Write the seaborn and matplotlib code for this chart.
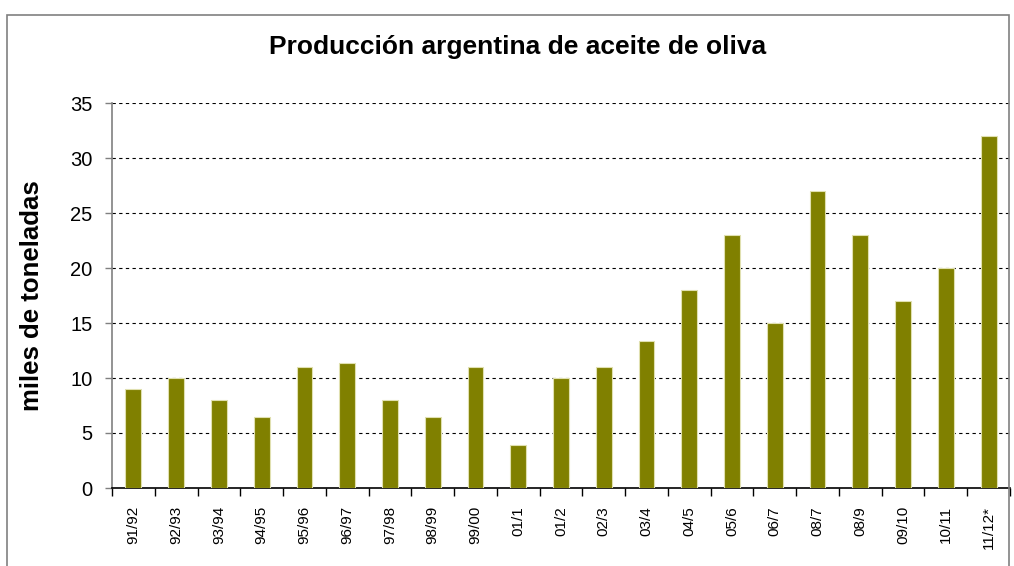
import matplotlib
matplotlib.use("Agg")
import matplotlib.pyplot as plt
import seaborn as sns
import pandas as pd
import numpy as np
from matplotlib.patches import Rectangle

campanias = ["91/92", "92/93", "93/94", "94/95", "95/96", "96/97", "97/98", "98/99",
             "99/00", "01/1", "01/2", "02/3", "03/4", "04/5", "05/6", "06/7", "08/7",
             "08/9", "09/10", "10/11", "11/12*"]
produccion = [9, 10, 8, 6.5, 11, 11.4, 8, 6.5, 11, 3.9, 10, 11, 13.4, 18, 23, 15, 27,
              23, 17, 20, 32]
y_ticks = [0, 5, 10, 15, 20, 25, 30, 35]

sns.set_theme(style="white")
plt.rcParams['font.family'] = ['Liberation Sans', 'DejaVu Sans']
plt.rcParams['text.color'] = 'black'
plt.rcParams['xtick.color'] = 'black'
plt.rcParams['ytick.color'] = 'black'
plt.rcParams['axes.labelcolor'] = 'black'

df = pd.DataFrame({"campania": campanias, "produccion": produccion})

fig = plt.figure(figsize=(10.14, 5.66), dpi=100)
ax = fig.add_axes([112/1014, 1 - 488/566, (1010-112)/1014, (488-103)/566])

# chart border
fig.patches.append(Rectangle((7/1014, -0.1), (1009-7)/1014, 1.1 - 15/566,
                             transform=fig.transFigure, fill=False,
                             edgecolor="#808080", linewidth=1.2, zorder=0))

sns.barplot(data=df, x="campania", y="produccion", color="#808000", width=0.37,
            edgecolor="#E0E0B0", linewidth=0.8, saturation=1, ax=ax, zorder=3)

ax.set_ylim(0, 35)
ax.set_xlim(-0.5, len(campanias) - 0.5)
ax.set_yticks(y_ticks)
ax.set_yticklabels([str(t) for t in y_ticks], fontsize=14.5)
for t in y_ticks[1:]:
    ax.axhline(t, color="black", linestyle=(0, (3, 3)), linewidth=0.8, zorder=1)

ax.set_xticks(range(len(campanias)))
ax.set_xticklabels(campanias, rotation=90, fontsize=11)
ax.tick_params(axis="x", which="major", length=0, pad=13)
ax.set_xticks(np.arange(-0.5, len(campanias), 1), minor=True)
ax.tick_params(axis="x", which="minor", length=6, width=1, color="black", direction="out", bottom=True)
ax.tick_params(axis="y", length=5, width=1, color="#808080", direction="out", left=True, pad=9,
               labelcolor="black")

for s in ["top", "right"]:
    ax.spines[s].set_visible(False)
ax.spines["left"].set_color("#808080")
ax.spines["left"].set_linewidth(1.2)
ax.spines["bottom"].set_color("black")
ax.spines["bottom"].set_linewidth(1.2)

ax.set_xlabel("")
ax.set_ylabel("miles de toneladas", fontsize=18.5, fontweight="bold")
ax.yaxis.set_label_coords((44 - 112) / 898, 0.5 + (488 - 296 - 192.5) / 385)
fig.text(518/1014, 1 - 47/566, "Producción argentina de aceite de oliva",
         ha="center", va="center", fontsize=19, fontweight="bold")

fig.savefig("out.png", dpi=100)
